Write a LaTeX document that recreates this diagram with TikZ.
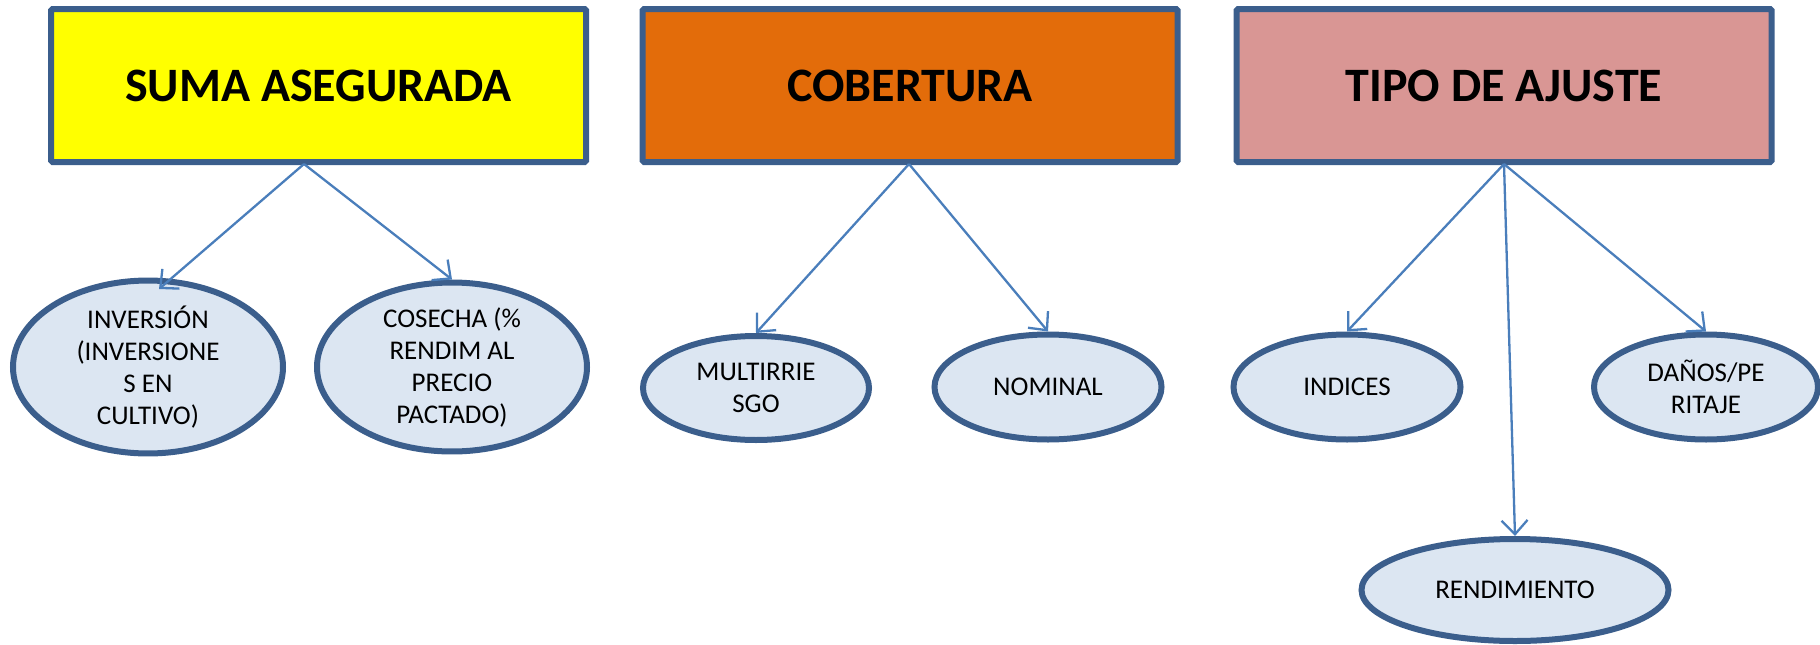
\documentclass[tikz,border=0pt]{standalone}
\usepackage{fontspec}
\setmainfont{Carlito}
\usetikzlibrary{shapes.geometric,arrows.meta}
\definecolor{bordc}{HTML}{3B5E8C}
\definecolor{arrc}{HTML}{4A7EBB}
\definecolor{ellf}{HTML}{DCE6F2}
\definecolor{yel}{HTML}{FFFF00}
\definecolor{ora}{HTML}{E36C0A}
\definecolor{pnk}{HTML}{D99694}
\tikzset{
  titlebox/.style={draw=bordc, line width=6pt, rounded corners=1.5pt, minimum width=535pt, minimum height=153pt, inner sep=0pt, font=\fontsize{48}{56}\selectfont\bfseries},
  leaf/.style={ellipse, draw=bordc, fill=ellf, line width=6pt, inner sep=0pt, align=center, font=\fontsize{27}{32}\selectfont},
  conn/.style={draw=arrc, line width=2.3pt, -{Straight Barb[length=14pt,width=26pt,line width=2.3pt]}}
}
\begin{document}
\begin{tikzpicture}[x=1pt,y=-1pt]
\useasboundingbox (0,0) rectangle (1820,645);
\node[titlebox, fill=yel] (b1) at (318.5,85.5) {SUMA ASEGURADA};
\node[titlebox, fill=ora] (b2) at (910,85.5) {COBERTURA};
\node[titlebox, fill=pnk] (b3) at (1504,85.5) {TIPO DE AJUSTE};
\node[leaf, minimum width=270pt, minimum height=152pt] (e1) at (148,367) {INVERSIÓN\\(INVERSIONE\\S EN\\CULTIVO)};
\node[leaf, minimum width=270pt, minimum height=152pt] (e2) at (452,367) {COSECHA (\%\\RENDIM AL\\PRECIO\\PACTADO)};
\node[leaf, minimum width=226pt, minimum height=104pt] (e3) at (756,388) {MULTIRRIE\\SGO};
\node[leaf, minimum width=227pt, minimum height=105pt] (e4) at (1048,387) {NOMINAL};
\node[leaf, minimum width=227pt, minimum height=105pt] (e5) at (1347,387) {INDICES};
\node[leaf, minimum width=224pt, minimum height=105pt] (e6) at (1706,387) {DAÑOS/PE\\RITAJE};
\node[leaf, minimum width=307pt, minimum height=102pt] (e7) at (1515,590) {RENDIMIENTO};
\coordinate (o1) at (304,164);
\coordinate (o2) at (909,164);
\coordinate (o3) at (1504,164);
\coordinate (t1) at (159,289);
\draw[conn] (o1) -- (t1);
\draw[conn] (o1) -- (e2.north);
\draw[conn] (o2) -- (e3.north);
\draw[conn] (o2) -- (e4.north);
\draw[conn] (o3) -- (e5.north);
\draw[conn] (o3) -- (e7.north);
\draw[conn] (o3) -- (e6.north);
\end{tikzpicture}
\end{document}
